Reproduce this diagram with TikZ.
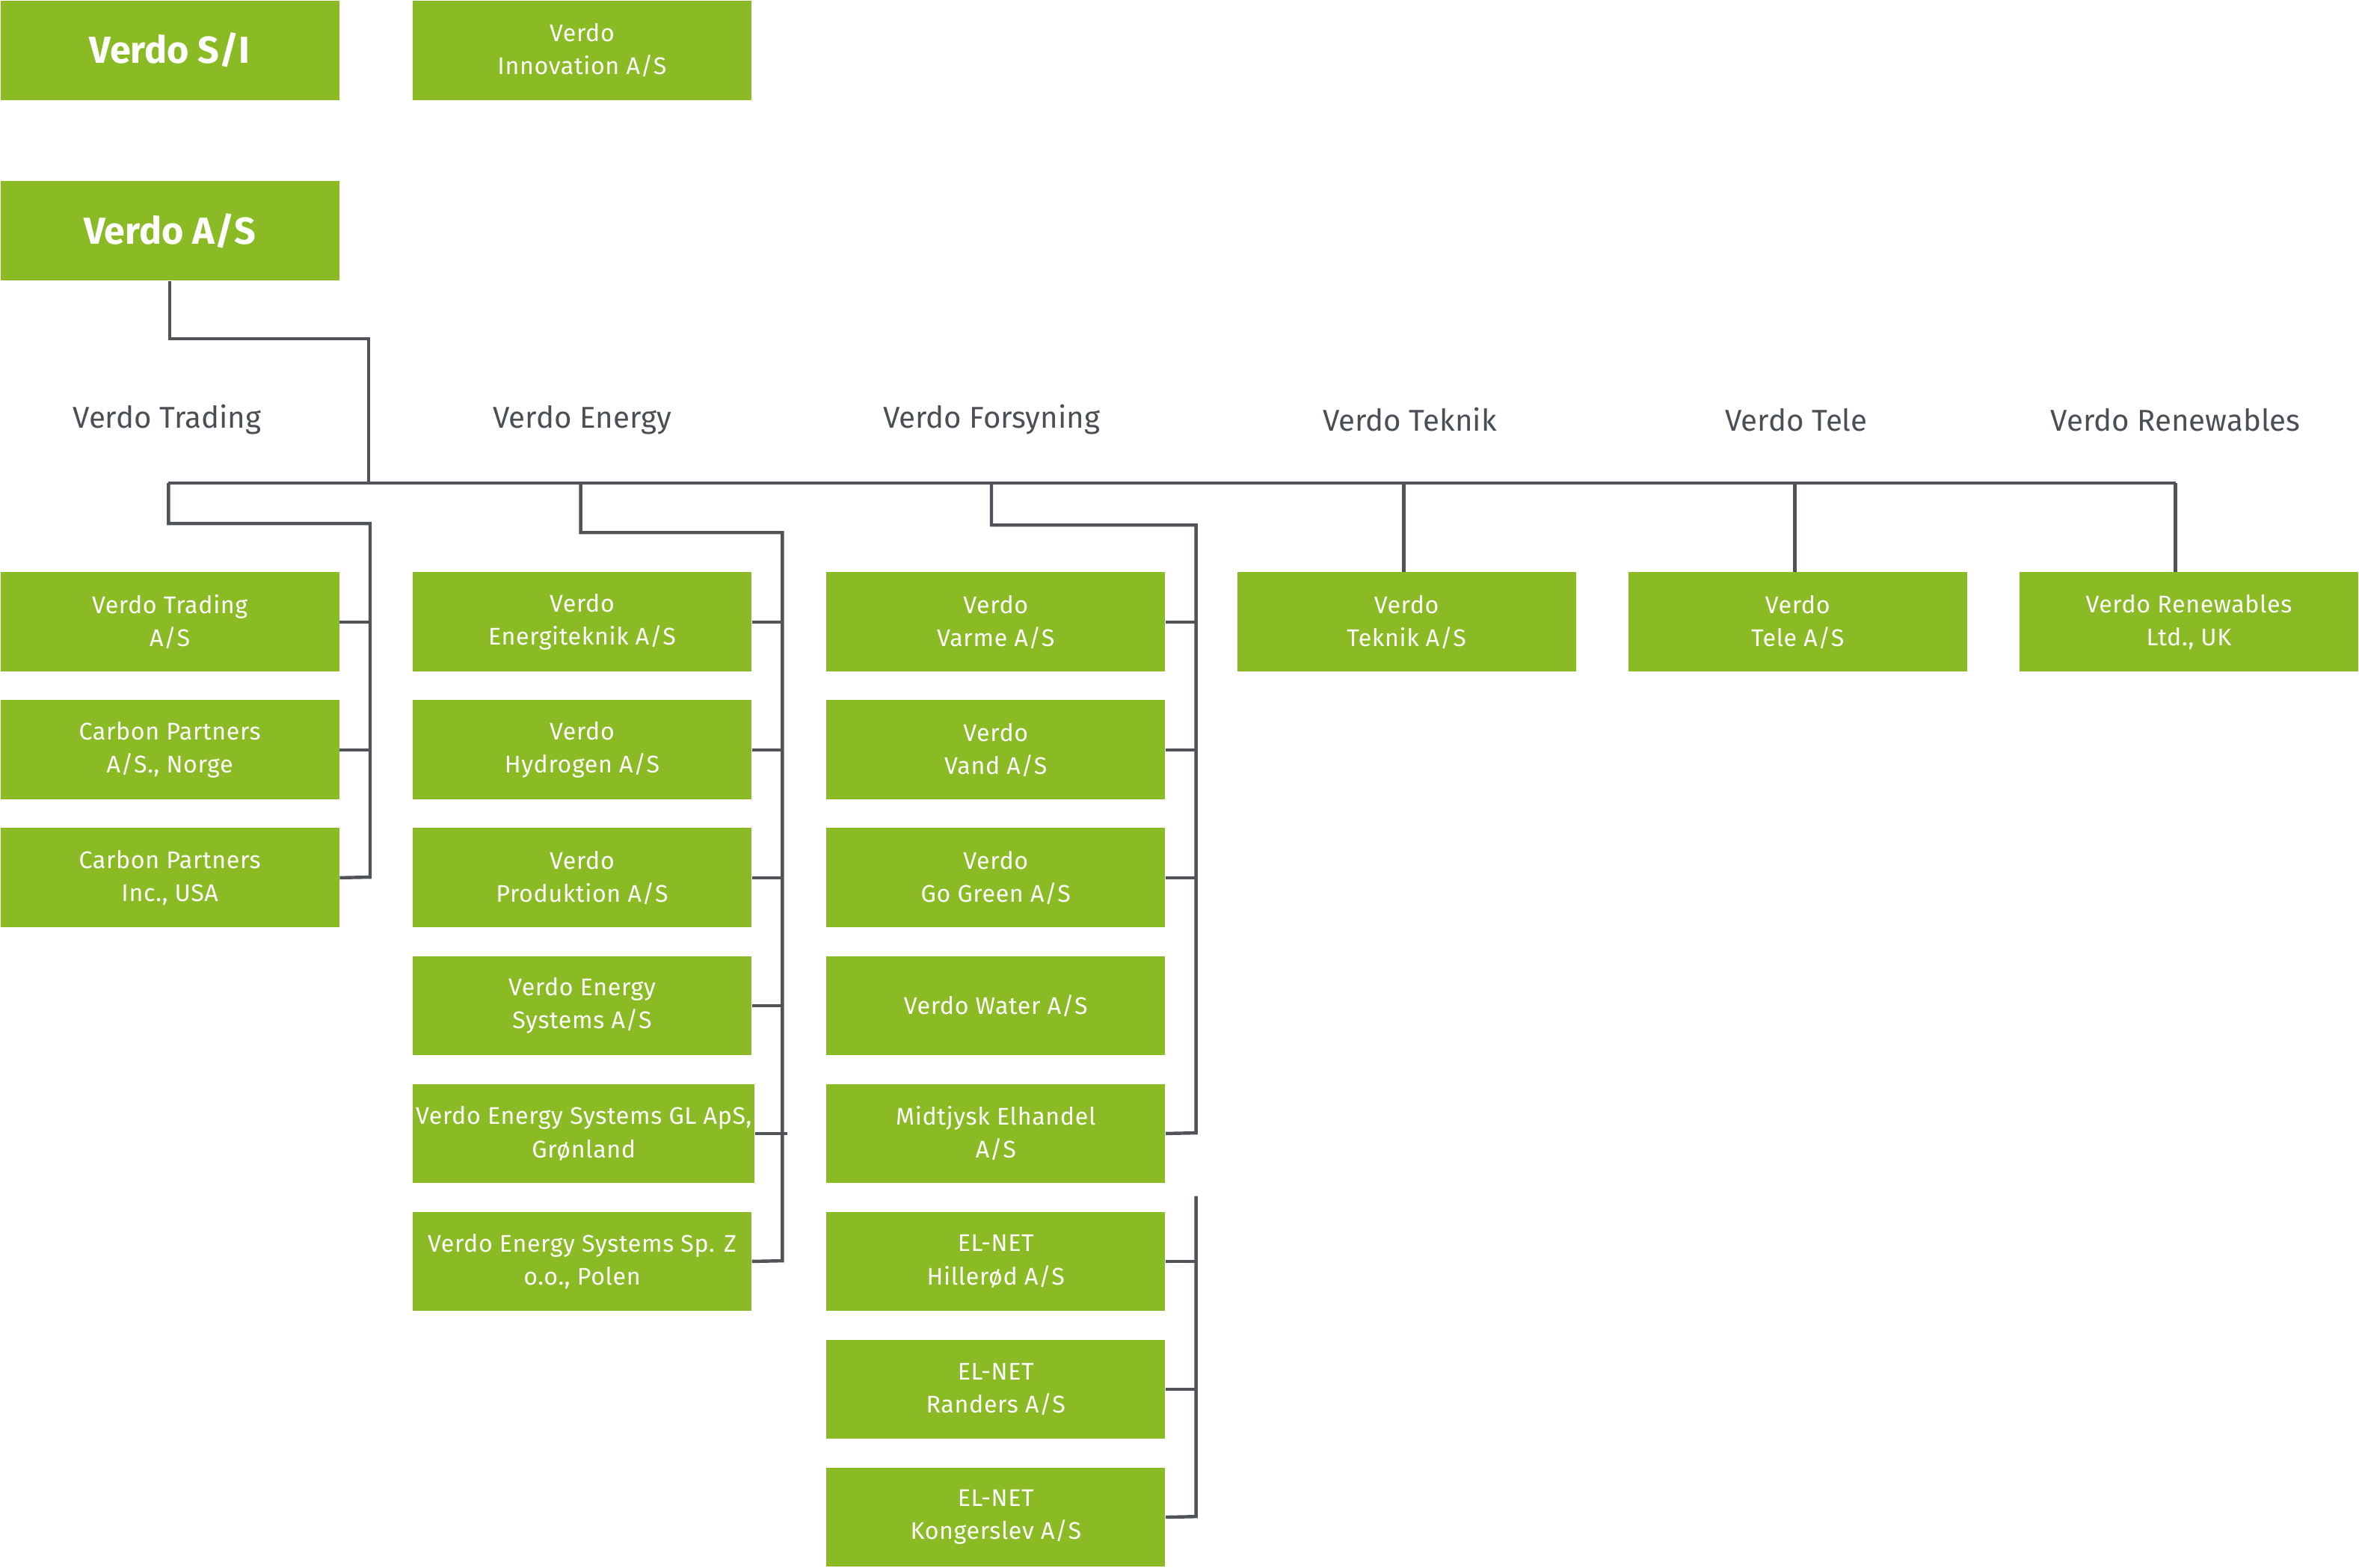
\documentclass[tikz,border=0pt]{standalone}
\usepackage{fontspec}
\setmainfont{Fira Sans}
\definecolor{vg}{HTML}{8ABA24}
\definecolor{ln}{HTML}{505459}
\definecolor{hd}{HTML}{4A4F55}
\begin{document}
\begin{tikzpicture}[x=0.5pt,y=-0.5pt,
 box/.style={fill=vg,text=white,anchor=north west,minimum width=112.5pt,minimum height=33pt,inner sep=1pt,align=center,font=\fontsize{8}{11}\selectfont\addfontfeature{LetterSpace=2}},
 big/.style={box,font=\fontsize{12.5}{14}\selectfont\bfseries},
 hd/.style={text=hd,font=\fontsize{10}{12}\selectfont},
 ln/.style={draw=ln,line width=1.1pt}]
\useasboundingbox (0,0) rectangle (1568,1042);
\node[big] (si) at (0,0) {Verdo S/I};
\node[box] (inn) at (274,0) {Verdo\\Innovation A/S};
\node[big] (as) at (0,120) {Verdo A/S};
\node[hd] (h1) at (111,279) {Verdo Trading};
\node[hd] (h2) at (387,279) {Verdo Energy};
\node[hd] (h3) at (659,279) {Verdo Forsyning};
\node[hd] (h4) at (937,279) {Verdo Teknik};
\node[hd] (h5) at (1194,279) {Verdo Tele};
\node[hd] (h6) at (1446,279) {Verdo Renewables};
% trading
\node[box] (t1) at (0,380) {Verdo Trading\\A/S};
\node[box] (t2) at (0,465) {Carbon Partners\\A/S., Norge};
\node[box] (t3) at (0,550) {Carbon Partners\\Inc., USA};
% energy
\node[box] (e1) at (274,380) {Verdo\\Energiteknik A/S};
\node[box] (e2) at (274,465) {Verdo\\Hydrogen A/S};
\node[box] (e3) at (274,550) {Verdo\\Produktion A/S};
\node[box] (e4) at (274,635) {Verdo Energy\\Systems A/S};
\node[box] (e5) at (274,720) {Verdo Energy Systems GL ApS,\\Grønland};
\node[box] (e6) at (274,805) {Verdo Energy Systems Sp. Z\\o.o., Polen};
% forsyning
\node[box] (f1) at (549,380) {Verdo\\Varme A/S};
\node[box] (f2) at (549,465) {Verdo\\Vand A/S};
\node[box] (f3) at (549,550) {Verdo\\Go Green A/S};
\node[box] (f4) at (549,635) {Verdo Water A/S};
\node[box] (f5) at (549,720) {Midtjysk Elhandel\\A/S};
\node[box] (f6) at (549,805) {EL-NET\\Hillerød A/S};
\node[box] (f7) at (549,890) {EL-NET\\Randers A/S};
\node[box] (f8) at (549,975) {EL-NET\\Kongerslev A/S};
\node[box] (k1) at (822,380) {Verdo\\Teknik A/S};
\node[box] (k2) at (1082,380) {Verdo\\Tele A/S};
\node[box] (k3) at (1342,380) {Verdo Renewables\\Ltd., UK};
\coordinate (bus) at (245,321);
\draw[ln] (as.south) |- (245,225) -- (bus);
\draw[ln] (112,321) -- (1446,321);
\draw[ln] (112,321) -- (112,348) -- (246,348) -- (246,583) -- (t3.east);
\foreach \n in {t1,t2} \draw[ln] (\n.east) -- ++(21,0);
\draw[ln] (386,321) -- (386,354) -- (520,354) -- (520,838) -- (e6.east);
\foreach \n in {e1,e2,e3,e4,e5} \draw[ln] (\n.east) -- ++(21,0);
\draw[ln] (659,321) -- (659,349) -- (795,349) -- (795,753) -- (f5.east);
\foreach \n in {f1,f2,f3} \draw[ln] (\n.east) -- ++(21,0);
\draw[ln] (795,795) -- (795,1008) -- (f8.east);
\foreach \n in {f6,f7} \draw[ln] (\n.east) -- ++(21,0);
\draw[ln] (933,321) -- (933,380);
\draw[ln] (1193,321) -- (1193,380);
\draw[ln] (1446,321) -- (1446,380);
\end{tikzpicture}
\end{document}
